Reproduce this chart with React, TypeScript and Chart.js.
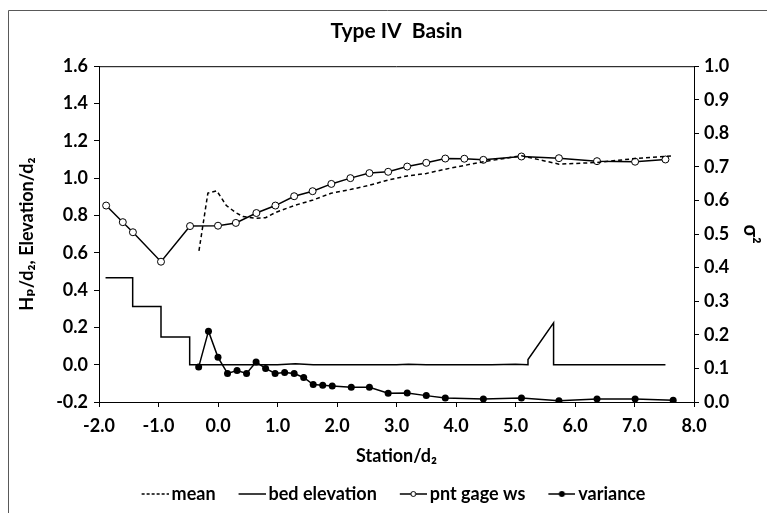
import React, { useEffect, useRef } from "react";
import { Chart, registerables } from "chart.js";

Chart.register(...registerables);

// ---- data ----
const meanX = [-0.32, -0.17, -0.02, 0.14, 0.3, 0.42, 0.64, 0.8, 0.96, 1.28, 1.6, 1.9, 2.24, 2.55, 2.86, 3.18, 3.5, 3.82, 4.14, 4.46, 5.1, 5.73, 6.37, 7.01, 7.65];
const meanY = [0.61, 0.92, 0.932, 0.853, 0.815, 0.794, 0.785, 0.788, 0.815, 0.853, 0.883, 0.919, 0.94, 0.962, 0.99, 1.012, 1.025, 1.048, 1.068, 1.088, 1.12, 1.075, 1.084, 1.105, 1.12];

const bedX = [-1.89, -1.434, -1.434, -0.958, -0.958, -0.476, -0.476, 1.0, 1.3, 1.6, 3.0, 3.2, 3.5, 4.6, 5.0, 5.21, 5.21, 5.64, 5.64, 7.52];
const bedY = [0.466, 0.466, 0.312, 0.312, 0.148, 0.148, 0.0, 0.0, 0.005, 0.0, 0.0, 0.003, 0.0, 0.0, 0.003, 0.0, 0.028, 0.224, 0.0, 0.0];

const gageX = [-1.88, -1.6, -1.43, -0.958, -0.47, 0.0, 0.3, 0.645, 0.965, 1.28, 1.59, 1.905, 2.225, 2.545, 2.86, 3.18, 3.5, 3.82, 4.14, 4.46, 5.1, 5.73, 6.37, 7.01, 7.52];
const gageY = [0.853, 0.764, 0.71, 0.552, 0.743, 0.745, 0.76, 0.813, 0.853, 0.903, 0.93, 0.969, 1.0, 1.027, 1.034, 1.062, 1.082, 1.105, 1.104, 1.098, 1.116, 1.107, 1.091, 1.088, 1.1];

const varX = [-0.325, -0.16, 0.0, 0.16, 0.32, 0.48, 0.64, 0.8, 0.96, 1.12, 1.28, 1.44, 1.6, 1.76, 1.92, 2.24, 2.545, 2.86, 3.18, 3.5, 3.82, 4.46, 5.1, 5.73, 6.37, 7.01, 7.65];
const varY = [0.104, 0.211, 0.133, 0.085, 0.094, 0.085, 0.119, 0.1, 0.085, 0.088, 0.085, 0.073, 0.052, 0.05, 0.048, 0.044, 0.044, 0.026, 0.027, 0.019, 0.012, 0.009, 0.012, 0.004, 0.009, 0.009, 0.005];

const seriesNames = ["mean", "bed elevation", "pnt gage ws", "variance"];
const chartTitle = "Type IV  Basin";
const xTitle = "Station/d\u2082";
const yTitle = "H\u209a/d\u2082, Elevation/d\u2082";
const y2Title = "\u03c3\u00b2";

const pts = (xs: number[], ys: number[]) => xs.map((x, i) => ({ x, y: ys[i] }));

// legend sample image: transparent left part, visible sample in the right 27px
const SAMPLE_W = 46;
function legendSample(kind: number): HTMLCanvasElement {
  const c = document.createElement("canvas");
  c.width = SAMPLE_W;
  c.height = 10;
  const g = c.getContext("2d")!;
  const x0 = SAMPLE_W - 27;
  const x1 = SAMPLE_W;
  const cx = (x0 + x1) / 2;
  g.strokeStyle = "#000";
  g.lineWidth = 1.5;
  if (kind === 0) g.setLineDash([3, 2]);
  g.beginPath();
  g.moveTo(x0, 5);
  g.lineTo(x1, 5);
  g.stroke();
  g.setLineDash([]);
  if (kind === 2) {
    g.fillStyle = "#fff";
    g.lineWidth = 1;
    g.beginPath();
    g.arc(cx, 5, 2.5, 0, Math.PI * 2);
    g.fill();
    g.stroke();
  } else if (kind === 3) {
    g.fillStyle = "#000";
    g.beginPath();
    g.arc(cx, 5, 3, 0, Math.PI * 2);
    g.fill();
  }
  return c;
}

const fmt = (v: number) => (Math.abs(v) < 1e-9 ? "0.0" : Number(v).toFixed(1));

export default function App() {
  const ref = useRef<HTMLCanvasElement | null>(null);
  useEffect(() => {
    if (!ref.current) return;
    Chart.defaults.font.family = "Lato, 'DejaVu Sans', sans-serif";
    Chart.defaults.color = "#000";
    const framePlugin = {
      id: "frame",
      beforeDraw(chart: any) {
        const ctx = chart.ctx;
        ctx.save();
        ctx.fillStyle = "#fff";
        ctx.fillRect(0, 0, chart.width, chart.height);
        ctx.strokeStyle = "#595959";
        ctx.lineWidth = 1;
        ctx.beginPath();
        ctx.moveTo(8.5, chart.height);
        ctx.lineTo(8.5, 10.5);
        ctx.lineTo(chart.width, 10.5);
        ctx.stroke();
        ctx.restore();
      },
      afterDraw(chart: any) {
        const { ctx, chartArea } = chart;
        ctx.save();
        ctx.strokeStyle = "#000";
        ctx.lineWidth = 1;
        ctx.beginPath();
        ctx.moveTo(chartArea.left, chartArea.top + 0.5);
        ctx.lineTo(chartArea.right, chartArea.top + 0.5);
        ctx.stroke();
        ctx.restore();
      },
    };
    const samples = [0, 1, 2, 3].map(legendSample);
    const axisCommon = {
      grid: { display: true, drawOnChartArea: false, drawTicks: true, tickLength: 5, color: "#000" },
      border: { display: true, color: "#000", width: 1 },
    };
    const tickFont = { size: 18, weight: "bold" };
    const chart = new Chart(ref.current, {
      type: "scatter",
      data: {
        datasets: [
          {
            label: seriesNames[0],
            data: pts(meanX, meanY),
            showLine: true,
            borderColor: "#000",
            borderWidth: 1.5,
            borderDash: [4, 3],
            pointRadius: 0,
            yAxisID: "y",
          },
          {
            label: seriesNames[1],
            data: pts(bedX, bedY),
            showLine: true,
            borderColor: "#000",
            borderWidth: 1.5,
            pointRadius: 0,
            yAxisID: "y",
          },
          {
            label: seriesNames[2],
            data: pts(gageX, gageY),
            showLine: true,
            borderColor: "#000",
            borderWidth: 1.5,
            pointRadius: 3.5,
            pointBorderWidth: 1,
            pointBorderColor: "#000",
            pointBackgroundColor: "#fff",
            yAxisID: "y",
          },
          {
            label: seriesNames[3],
            data: pts(varX, varY),
            showLine: true,
            borderColor: "#000",
            borderWidth: 1.5,
            pointRadius: 3.5,
            pointBorderWidth: 0,
            pointBackgroundColor: "#000",
            yAxisID: "y2",
          },
        ],
      },
      options: {
        animation: false,
        responsive: false,
        maintainAspectRatio: false,
        layout: { padding: { left: 12, right: 5, top: 10, bottom: 0 } },
        plugins: {
          tooltip: { enabled: false },
          title: {
            display: true,
            fullSize: false,
            text: chartTitle,
            font: { size: 21, weight: "bold" },
            color: "#000",
            padding: { top: 9, bottom: 22 },
          },
          legend: {
            position: "bottom",
            labels: {
              usePointStyle: true,
              pointStyleWidth: 34,
              padding: 10,
              color: "#000",
              font: { size: 18, weight: "bold" },
              generateLabels: () =>
                seriesNames.map((t, i) => ({
                  text: t,
                  pointStyle: samples[i] as any,
                  fillStyle: "#000",
                  strokeStyle: "#000",
                  lineWidth: 0,
                  hidden: false,
                  datasetIndex: i,
                })),
            },
          },
        },
        scales: {
          x: {
            type: "linear",
            position: "bottom",
            min: -2,
            max: 8,
            ...axisCommon,
            ticks: { stepSize: 1, callback: (v: any) => fmt(v), font: tickFont, padding: 8, color: "#000" },
            title: { display: true, text: xTitle, font: { size: 18, weight: "bold" }, color: "#000", padding: { top: 4, bottom: 8 } },
            afterFit: (s: any) => { s.height = 73; },
          },
          y: {
            type: "linear",
            position: "left",
            min: -0.2,
            max: 1.6,
            ...axisCommon,
            ticks: { stepSize: 0.2, callback: (v: any) => fmt(v), font: tickFont, padding: 6, color: "#000" },
            title: { display: true, text: yTitle, font: { size: 18, weight: "bold" }, color: "#000", padding: { top: 4, bottom: 0 } },
            afterFit: (s: any) => { s.width = 87; },
          },
          y2: {
            type: "linear",
            position: "right",
            min: 0,
            max: 1,
            ...axisCommon,
            ticks: { stepSize: 0.1, callback: (v: any) => fmt(v), font: tickFont, padding: 5, color: "#000" },
            title: { display: true, text: y2Title, font: { size: 20, weight: "bold" }, color: "#000", padding: { top: 0, bottom: 0 } },
            afterFit: (s: any) => { s.width = 68; },
          },
        },
      },
      plugins: [framePlugin],
    } as any);
    return () => chart.destroy();
  }, []);
  return (
    <div style={{ position: "fixed", left: 0, top: 0, width: 767, height: 513, background: "#fff" }}>
      <canvas ref={ref} width={767} height={513} style={{ display: "block", width: 767, height: 513 }} />
    </div>
  );
}
